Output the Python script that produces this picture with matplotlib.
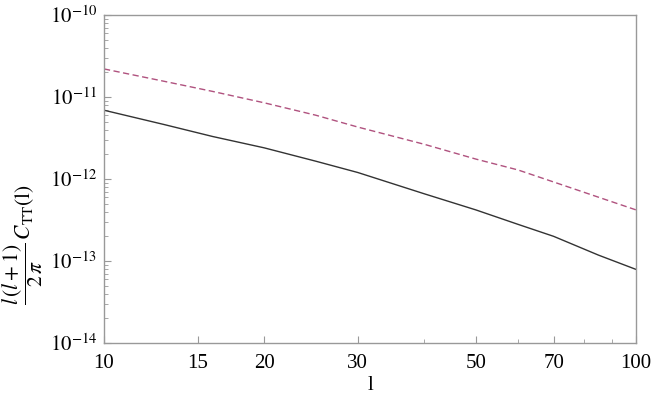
import math
import matplotlib.pyplot as plt

plt.rcParams['font.family'] = 'Liberation Serif'
plt.rcParams['mathtext.fontset'] = 'stix'

# multipole l and the two spectra
ell = [10, 13, 16, 20, 25, 30, 40, 50, 60, 70, 85, 100]
c_solid = [6.9e-12, 4.6e-12, 3.3e-12, 2.4e-12, 1.65e-12, 1.2e-12,
           6.6e-13, 4.2e-13, 2.8e-13, 2.0e-13, 1.18e-13, 7.9e-14]
c_dashed = [2.2e-11, 1.55e-11, 1.17e-11, 8.5e-12, 6.0e-12, 4.3e-12,
            2.65e-12, 1.75e-12, 1.29e-12, 9.2e-13, 6.0e-13, 4.2e-13]

xticks = [10, 15, 20, 30, 50, 70, 100]
yticks = [1e-14, 1e-13, 1e-12, 1e-11, 1e-10]

fig = plt.figure(figsize=(6.54, 4.01), dpi=100)
ax = fig.add_axes([0.159, 0.1446, 0.8135, 0.818])

ax.plot(ell, c_solid, color='#333333', lw=1.0)
ax.plot(ell, c_dashed, color='#b0527f', lw=1.0, dashes=(4.5, 2.5))

ax.set_xscale('log')
ax.set_yscale('log')
ax.set_xlim(10, 100)
ax.set_ylim(1e-14, 1e-10)

ax.set_xticks(xticks)
ax.set_xticklabels([str(t) for t in xticks])
ax.set_yticks(yticks)
ax.set_yticklabels([r'$10^{%d}$' % round(math.log10(v)) for v in yticks])

for s in ax.spines.values():
    s.set_color('#999999')
    s.set_linewidth(1.0)

ax.tick_params(which='both', direction='in', color='#999999', labelsize=15,
               top=False, right=False)
ax.tick_params(which='major', length=5, width=0.8)
ax.tick_params(which='minor', length=3, width=0.6)
ax.tick_params(axis='x', which='both', pad=8)
ax.tick_params(axis='y', which='both', pad=5)
ax.tick_params(axis='x', which='minor', labelbottom=False)

ax.set_xlabel('l', fontsize=15, va='center')
ax.xaxis.set_label_coords(0.5, -0.13)
ax.set_ylabel(r'$\dfrac{l\,(l+1)}{2\,\pi}\,C_{\mathrm{TT}}(\mathrm{l})$', fontsize=15.5,
              va='center', ha='center')
ax.yaxis.set_label_coords(-0.152, 0.30)

fig.savefig('out.png', dpi=100)
